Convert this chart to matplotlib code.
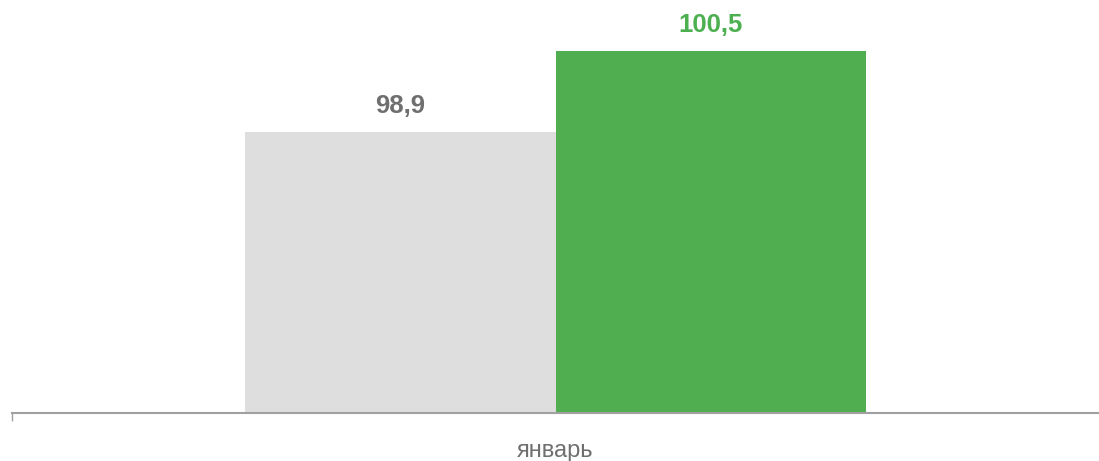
import matplotlib.pyplot as plt
import numpy as np

plt.rcParams["font.family"] = ["Liberation Sans", "DejaVu Sans"]

# Data
categories = ['январь']
series_names = ['prev', 'curr']
values_prev = [98.9]
values_curr = [100.5]
value_labels_prev = ['98,9']
value_labels_curr = ['100,5']

colors = ['#dedede', '#51ae50']
label_colors = ['#6f6f6f', '#4caf50']

fig = plt.figure(figsize=(10.99, 4.61), dpi=100)
ax = fig.add_axes([12 / 1099, 48.5 / 461, 1 - 12 / 1099, 1 - 48.5 / 461])

bar_width = 0.286
index = np.arange(len(categories))

series = [values_prev, values_curr]
labels = [value_labels_prev, value_labels_curr]
for i, vals in enumerate(series):
    x = index + (i - 0.5) * bar_width
    bars = ax.bar(x, vals, bar_width, color=colors[i], linewidth=0, zorder=2)
    for rect, txt in zip(bars, labels[i]):
        ax.annotate(txt, (rect.get_x() + rect.get_width() / 2, rect.get_height()),
                    xytext=(0, 10), textcoords='offset points',
                    ha='center', va='bottom', fontsize=18.5,
                    fontweight='bold', color=label_colors[i])

ax.set_xlim(-0.5, 0.5)
ax.set_ylim(93.33, 101.52)

# Spines
for s in ['top', 'right', 'left']:
    ax.spines[s].set_visible(False)
ax.spines['bottom'].set_color('#a0a0a0')
ax.spines['bottom'].set_linewidth(1.5)
ax.set_yticks([])

# Category boundary tick and centered label
ax.set_xticks([-0.5])
ax.set_xticklabels([''])
ax.tick_params(axis='x', which='major', length=6, width=1, color='#a0a0a0')
ax.set_xticks(index, minor=True)
ax.set_xticklabels(categories, minor=True)
ax.tick_params(axis='x', which='minor', length=0, pad=20, labelsize=17, labelcolor='#6f6f6f')

fig.savefig('out.png', dpi=100)
